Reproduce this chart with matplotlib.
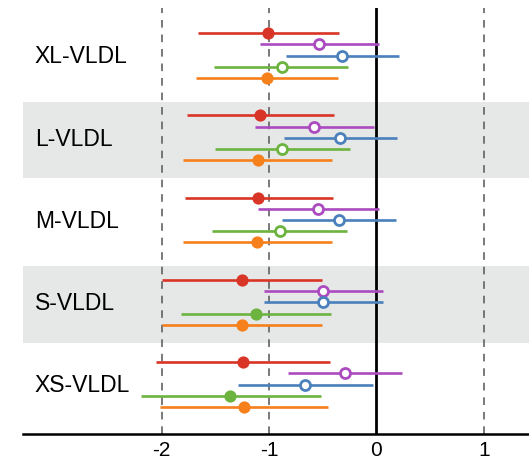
import matplotlib.pyplot as plt

plt.rcParams["font.family"] = ["Liberation Sans", "DejaVu Sans"]

groups = ["XL-VLDL", "L-VLDL", "M-VLDL", "S-VLDL", "XS-VLDL"]
series_colors = ["#d83526", "#ab4bbf", "#4a80bb", "#6cb33f", "#f5801c"]

# per group: five series (red, purple, blue, green, orange)
est = [
    [-1.01, -0.53, -0.32, -0.88, -1.02],
    [-1.08, -0.58, -0.34, -0.88, -1.10],
    [-1.10, -0.54, -0.35, -0.90, -1.11],
    [-1.25, -0.50, -0.50, -1.12, -1.25],
    [-1.24, -0.29, -0.66, -1.36, -1.23],
]
lo = [
    [-1.66, -1.08, -0.84, -1.51, -1.68],
    [-1.76, -1.13, -0.86, -1.50, -1.80],
    [-1.78, -1.10, -0.88, -1.53, -1.80],
    [-2.00, -1.05, -1.05, -1.82, -2.00],
    [-2.05, -0.82, -1.29, -2.19, -2.01],
]
hi = [
    [-0.35, 0.02, 0.21, -0.26, -0.36],
    [-0.39, -0.02, 0.19, -0.25, -0.41],
    [-0.40, 0.02, 0.18, -0.27, -0.41],
    [-0.51, 0.06, 0.06, -0.42, -0.51],
    [-0.43, 0.24, -0.03, -0.52, -0.45],
]
filled = [
    [True, False, False, False, True],
    [True, False, False, False, True],
    [True, False, False, False, True],
    [True, False, False, True, True],
    [True, False, False, True, True],
]
xticks = [-2, -1, 0, 1]

fig = plt.figure(figsize=(5.29, 4.61), dpi=100)
ax = fig.add_axes([0.0435, 0.0592, 0.9565, 0.9234])

row_step = 0.136

# shaded bands for alternating groups
for i in range(len(groups)):
    if i % 2 == 1:
        ax.axhspan(i - 0.44, i + 0.49, color="#e6e7e7", zorder=0, lw=0)

for x in xticks:
    if x == 0:
        ax.axvline(x, color="black", lw=2, zorder=1)
    else:
        ax.axvline(x, color="#555555", lw=1.1, ls=(0, (5, 4.5)), zorder=1)

for i, g in enumerate(groups):
    for j in range(5):
        y = i + (j - 2) * row_step
        c = series_colors[j]
        ax.plot([lo[i][j], hi[i][j]], [y, y], color=c, lw=1.9,
                solid_capstyle="butt", zorder=2)
        if filled[i][j]:
            ax.plot(est[i][j], y, "o", color=c, ms=8.8, mew=0, zorder=3)
        else:
            ax.plot(est[i][j], y, "o", mfc="white", mec=c, ms=7.2, mew=2.0, zorder=3)
    ax.text(-3.18, i + 0.095, g, fontsize=16.5, ha="left", va="baseline")

ax.set_xlim(-3.29, 1.421)
ax.set_ylim(4.596, -0.577)
ax.set_xticks(xticks)
ax.set_xticklabels([str(t) for t in xticks], fontsize=15)
ax.tick_params(axis="x", length=0, pad=5)
ax.set_yticks([])
for s in ["top", "right", "left"]:
    ax.spines[s].set_visible(False)
ax.spines["bottom"].set_linewidth(1.8)

fig.savefig("out.png", dpi=100)
